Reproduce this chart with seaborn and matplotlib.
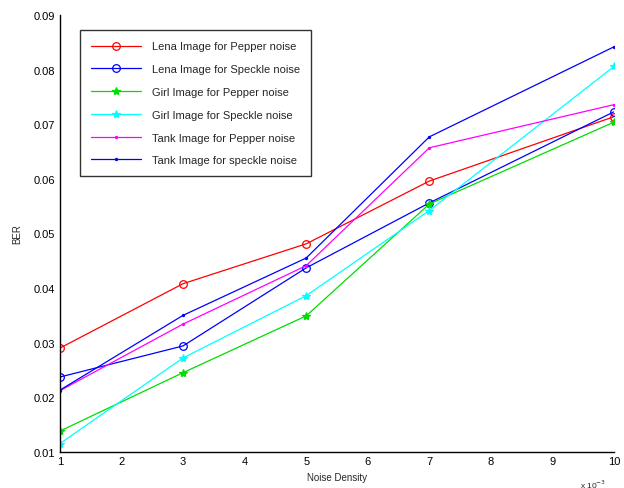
import pandas as pd
import matplotlib
matplotlib.use('Agg')
import matplotlib.pyplot as plt
import seaborn as sns

noise_density = [1, 3, 5, 7, 10]
lena_pepper = [0.0290, 0.0408, 0.0481, 0.0596, 0.0714]
lena_speckle = [0.0237, 0.0294, 0.0437, 0.0556, 0.0723]
girl_pepper = [0.0138, 0.0245, 0.0349, 0.0554, 0.0704]
girl_speckle = [0.0115, 0.0272, 0.0386, 0.0542, 0.0806]
tank_pepper = [0.0212, 0.0334, 0.0441, 0.0657, 0.0736]
tank_speckle = [0.0213, 0.0350, 0.0455, 0.0677, 0.0842]

labels = ['Lena Image for Pepper noise', 'Lena Image for Speckle noise',
          'Girl Image for Pepper noise', 'Girl Image for Speckle noise',
          'Tank Image for Pepper noise', 'Tank Image for speckle noise']
series = [lena_pepper, lena_speckle, girl_pepper, girl_speckle, tank_pepper, tank_speckle]
colors = ['#ff0000', '#0000ff', '#00dd00', '#00ffff', '#ff00ff', '#0000ff']
markers = ['o', 'o', '*', '*', '.', '.']

df = pd.DataFrame({
    'Noise Density': noise_density * len(series),
    'BER': [v for s in series for v in s],
    'series': [lab for lab in labels for _ in noise_density],
})

sns.set_style('white')
plt.rcParams['font.family'] = ['Liberation Sans', 'DejaVu Sans']

fig, ax = plt.subplots(figsize=(6.24, 4.89), dpi=100)
fig.subplots_adjust(left=0.096, right=0.984, bottom=0.074, top=0.967)

for lab, col, mk in zip(labels, colors, markers):
    sub = df[df['series'] == lab]
    filled = mk != 'o'
    sns.lineplot(data=sub, x='Noise Density', y='BER', ax=ax, color=col, marker=mk,
                 markersize={'o': 5.5, '*': 6, '.': 3}[mk], linewidth=0.9, label=lab,
                 markerfacecolor=col if filled else 'none', markeredgecolor=col,
                 markeredgewidth=0.9)

ax.set_xlim(1, 10)
ax.set_ylim(0.01, 0.09)
ax.set_xticks(range(1, 11))
ax.set_yticks([0.01, 0.02, 0.03, 0.04, 0.05, 0.06, 0.07, 0.08, 0.09])
ax.set_yticklabels(['0.01', '0.02', '0.03', '0.04', '0.05', '0.06', '0.07', '0.08', '0.09'])
ax.tick_params(direction='in', length=5, width=1, labelsize=8, colors='black')
ax.tick_params(axis='x', pad=3)
sns.despine(ax=ax)
for sp in ['left', 'bottom']:
    ax.spines[sp].set_color('black')
    ax.spines[sp].set_linewidth(1)
ax.set_xlabel('Noise Density', fontsize=7, labelpad=4)
ax.set_ylabel('BER', fontsize=7, labelpad=8)
ax.text(0.985, -0.058, r'x 10$^{-3}$', transform=ax.transAxes, ha='right', va='top', fontsize=6)

leg = ax.legend(loc='upper left', bbox_to_anchor=(0.026, 0.978), fontsize=8, frameon=True,
                fancybox=False, edgecolor='black', borderpad=1.0, labelspacing=1.15,
                handlelength=4.5, handletextpad=1.0)
leg.get_frame().set_linewidth(1)

fig.savefig('out.png', dpi=100)
